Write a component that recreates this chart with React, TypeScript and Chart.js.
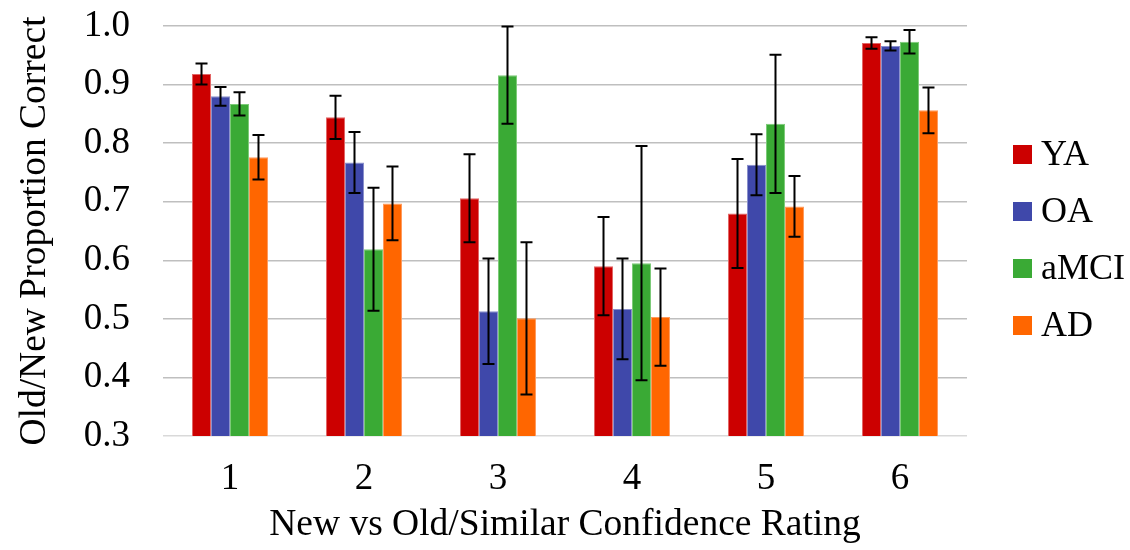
import React, { useEffect, useRef } from "react";
import { Chart, registerables } from "chart.js";

Chart.register(...registerables);

const categories = ["1", "2", "3", "4", "5", "6"];
const seriesNames = ["YA", "OA", "aMCI", "AD"];
const yaValues = [0.918, 0.844, 0.706, 0.590, 0.680, 0.971];
const oaValues = [0.880, 0.767, 0.513, 0.517, 0.763, 0.966];
const amciValues = [0.867, 0.619, 0.916, 0.595, 0.833, 0.973];
const adValues = [0.776, 0.697, 0.501, 0.503, 0.692, 0.856];
const yaErrors = [0.018, 0.037, 0.075, 0.084, 0.093, 0.010];
const oaErrors = [0.016, 0.052, 0.090, 0.086, 0.052, 0.008];
const amciErrors = [0.020, 0.105, 0.083, 0.200, 0.118, 0.020];
const adErrors = [0.038, 0.063, 0.130, 0.083, 0.052, 0.039];
const yTicks = [0.3, 0.4, 0.5, 0.6, 0.7, 0.8, 0.9, 1.0];

const colors = ["#CC0000", "#3F48AA", "#3AAA35", "#FF6600"];
const borders = ["#E26666", "#8A90CC", "#7CCB78", "#FF9A5C"];

const FONT = "'Liberation Serif', 'Times New Roman', serif";

const errorBarPlugin = {
  id: "errorBars",
  afterDatasetsDraw(chart: any) {
    const ctx = chart.ctx;
    const yScale = chart.scales.y;
    ctx.save();
    ctx.strokeStyle = "#000000";
    ctx.lineWidth = 2;
    chart.data.datasets.forEach((ds: any, i: number) => {
      const meta = chart.getDatasetMeta(i);
      meta.data.forEach((bar: any, j: number) => {
        const v = ds.data[j];
        const e = ds.errors[j];
        const x = bar.x;
        const yTop = yScale.getPixelForValue(v + e);
        const yBot = yScale.getPixelForValue(v - e);
        const cap = 6;
        ctx.beginPath();
        ctx.moveTo(x, yTop);
        ctx.lineTo(x, yBot);
        ctx.moveTo(x - cap, yTop);
        ctx.lineTo(x + cap, yTop);
        ctx.moveTo(x - cap, yBot);
        ctx.lineTo(x + cap, yBot);
        ctx.stroke();
      });
    });
    ctx.restore();
  },
};

const legendPlugin = {
  id: "sideLegend",
  afterDraw(chart: any) {
    const ctx = chart.ctx;
    const area = chart.chartArea;
    const n = chart.data.datasets.length;
    const spacing = 57;
    const centerY = (area.top + area.bottom) / 2 + 9;
    const startY = centerY - ((n - 1) * spacing) / 2;
    const boxX = area.right + 46;
    ctx.save();
    ctx.font = `36px ${FONT}`;
    ctx.textBaseline = "middle";
    ctx.textAlign = "left";
    chart.data.datasets.forEach((ds: any, i: number) => {
      const cy = startY + i * spacing;
      ctx.fillStyle = ds.backgroundColor;
      ctx.fillRect(boxX, cy - 9.5, 19, 19);
      ctx.fillStyle = "#000000";
      ctx.fillText(ds.label, boxX + 28, cy + 1);
    });
    ctx.restore();
  },
};

export default function App() {
  const ref = useRef<HTMLCanvasElement | null>(null);
  useEffect(() => {
    if (!ref.current) return;
    const values = [yaValues, oaValues, amciValues, adValues];
    const errors = [yaErrors, oaErrors, amciErrors, adErrors];
    const chart = new Chart(ref.current, {
      type: "bar",
      data: {
        labels: categories,
        datasets: seriesNames.map((name, i) => ({
          label: name,
          data: values[i],
          errors: errors[i],
          backgroundColor: colors[i],
          borderColor: borders[i],
          borderWidth: 1,
          categoryPercentage: 0.567,
          barPercentage: 1.0,
        })) as any,
      },
      options: {
        animation: false,
        responsive: false,
        maintainAspectRatio: false,
        layout: { padding: { left: 0, right: 163, top: 26, bottom: 0 } },
        plugins: {
          legend: { display: false },
          tooltip: { enabled: false },
        },
        scales: {
          x: {
            grid: { display: false, drawTicks: false },
            border: { display: false },
            ticks: {
              font: { family: FONT, size: 37 },
              color: "#000000",
              padding: 21,
            },
            title: {
              display: true,
              text: "New vs Old/Similar Confidence Rating",
              font: { family: FONT, size: 37.5 },
              color: "#000000",
              padding: { top: 4, bottom: 2 },
            },
            afterFit: (scale: any) => {
              scale.height = 114;
            },
          },
          y: {
            min: 0.3,
            max: 1.0,
            afterBuildTicks: (scale: any) => {
              scale.ticks = yTicks.map((v) => ({ value: v }));
            },
            grid: {
              color: (c: any) => (c.tick && Math.abs(c.tick.value - 0.3) < 1e-6 ? "#D9D9D9" : "#BFBFBF"),
              lineWidth: 1.5,
              drawTicks: false,
            },
            border: { display: false },
            ticks: {
              font: { family: FONT, size: 37 },
              color: "#000000",
              padding: 33,
              callback: (v: any) => Number(v).toFixed(1),
            },
            title: {
              display: true,
              text: "Old/New Proportion Correct",
              font: { family: FONT, size: 37.5 },
              color: "#000000",
              padding: { top: 13, bottom: 0 },
            },
            afterFit: (scale: any) => {
              scale.width = 163;
              scale.paddingTop = 0;
              scale.paddingBottom = 0;
            },
          },
        },
      },
      plugins: [errorBarPlugin, legendPlugin],
    });
    return () => chart.destroy();
  }, []);
  return (
    <div style={{ position: "fixed", left: 0, top: 0, width: 1130, height: 550, background: "#ffffff" }}>
      <canvas ref={ref} width={1130} height={550} style={{ width: 1130, height: 550 }} />
    </div>
  );
}
